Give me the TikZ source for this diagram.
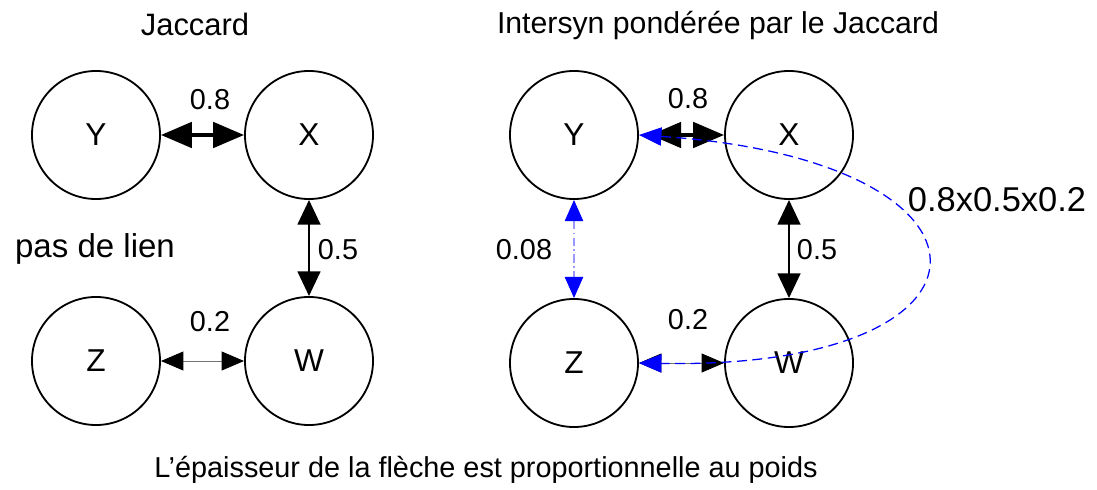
\documentclass[tikz,border=0pt]{standalone}
\usepackage{fontspec}
\setmainfont{Liberation Sans}
\usetikzlibrary{positioning,arrows.meta,calc}

\begin{document}
\begin{tikzpicture}[
  x=0.025cm, y=-0.025cm,
  vnode/.style={circle, draw=black, line width=1.3pt, minimum size=3.2cm, inner sep=0pt, font=\fontsize{22.5pt}{26pt}\selectfont},
  wlabel/.style={inner sep=0pt, font=\fontsize{20.5pt}{24pt}\selectfont},
  heavyarr/.style={>={Triangle[length=22pt,width=18pt]}, <->, line width=2.8pt},
  midarr/.style={>={Triangle[length=17.5pt,width=16pt]}, <->, line width=2pt},
  thinarr/.style={>={Triangle[length=16pt,width=13.5pt,color=black]}, <->, draw=black!55, line width=0.7pt},
  bluecurve/.style={>={Triangle[length=16pt,width=13pt]}, <->, draw=blue, line width=0.9pt, dash pattern=on 7pt off 4pt},
  bluelink/.style={>={Triangle[length=15pt,width=13pt,color=blue]}, <->, draw=blue!40, line width=1pt, dash pattern=on 6pt off 2.5pt on 1pt off 2.5pt}
]
  \useasboundingbox (0,0) rectangle (1097,490);

  % left graph: Jaccard
  \node[vnode] (ly) at (96,135) {Y};
  \node[vnode] (lx) at (309,135) {X};
  \node[vnode] (lz) at (96,361) {Z};
  \node[vnode] (lw) at (309,361) {W};
  \draw[heavyarr] (ly) -- (lx);
  \draw[midarr] (lx) -- (lw);
  \draw[thinarr] (lz) -- (lw);
  \node[wlabel] (lyx) at (210,100) {0.8};
  \node[wlabel] (lxw) at (338,250) {0.5};
  \node[wlabel] (lzw) at (210,322) {0.2};
  \node[inner sep=0pt, font=\fontsize{23.5pt}{27pt}\selectfont] (nolink) at (95,249) {pas de lien};
  \node[inner sep=0pt, font=\fontsize{22pt}{26pt}\selectfont] (ltitle) at (195,24) {Jaccard};

  % right graph: Intersyn
  \node[vnode] (ry) at (574,135) {Y};
  \node[vnode] (rx) at (789,135) {X};
  \node[vnode] (rz) at (574,363) {Z};
  \node[vnode] (rw) at (789,363) {W};
  \draw[heavyarr, shorten <=8pt] (ry) -- (rx);
  \draw[midarr] (rx) -- (rw);
  \draw[thinarr] (rz) -- (rw);
  \draw[bluelink] (ry) -- (rz);
  \draw[bluecurve] (ry.east) .. controls (1020,160) and (1020,370) .. (rz.east);
  \node[wlabel] (ryx) at (688,99) {0.8};
  \node[wlabel] (ryz) at (524,250) {0.08};
  \node[wlabel] (rxw) at (817,250) {0.5};
  \node[wlabel] (rzw) at (688,320) {0.2};
  \node[inner sep=0pt, font=\fontsize{24.5pt}{28pt}\selectfont] (prod) at (997,200) {0.8x0.5x0.2};
  \node[inner sep=0pt, font=\fontsize{21.5pt}{26pt}\selectfont] (rtitle) at (718,26) {Intersyn pondérée par le Jaccard};

  \node[inner sep=0pt, font=\fontsize{20.5pt}{24pt}\selectfont] (note) at (486,470) {L\char"0027 épaisseur de la flèche est proportionnelle au poids};
\end{tikzpicture}
\end{document}
